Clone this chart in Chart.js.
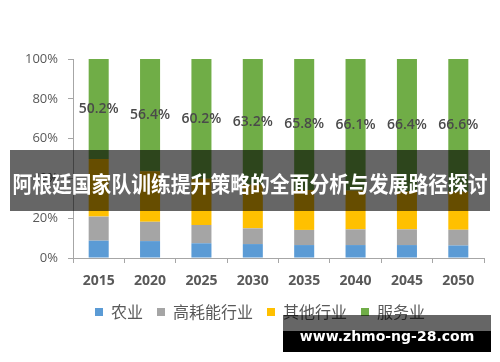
<!DOCTYPE html>
<html>
<head>
<meta charset="utf-8">
<script src="https://cdn.jsdelivr.net/npm/chart.js@4/dist/chart.umd.min.js"></script>
<style>
  html, body { margin: 0; padding: 0; background: #fff; }
  #wrap { position: relative; width: 500px; height: 362px; }
  #banner {
    position: absolute; left: 10px; top: 150px; width: 480px; height: 61px;
    background: rgba(0, 0, 0, 0.6);
  }
  #banner span {
    position: absolute; left: 50%; top: 50%;
    transform: translate(-50%, -46%) scaleX(0.9);
    color: #fff; font: bold 22px "Noto Sans CJK SC", sans-serif;
    white-space: nowrap;
  }
  #mark {
    position: absolute; left: 283px; top: 315px; width: 208px; height: 37px;
    background: linear-gradient(to bottom, rgba(0,0,0,0.6) 0, rgba(0,0,0,0.6) 16px, #000 16px);
    color: #fff; font: bold 14px "DejaVu Sans", sans-serif;
    line-height: 31px; text-align: center; padding-top: 6px; box-sizing: border-box;
  }
</style>
</head>
<body>
<div id="wrap">
  <canvas id="energyChart"></canvas>
  <div id="banner"><span>阿根廷国家队训练提升策略的全面分析与发展路径探讨</span></div>
  <div id="mark">www.zhmo-ng-28.com</div>
</div>
<script>
const years = ['2015', '2020', '2025', '2030', '2035', '2040', '2045', '2050'];
const agriculture = [8.7, 8.5, 7.4, 7.0, 6.5, 6.5, 6.5, 6.3];
const heavyIndustry = [12.1, 9.7, 9.2, 7.9, 7.6, 7.9, 7.9, 7.9];
const otherIndustry = [29.0, 25.4, 23.2, 21.9, 20.1, 19.5, 19.2, 19.2];
const services = [50.2, 56.4, 60.2, 63.2, 65.8, 66.1, 66.4, 66.6];
const yTicks = [0, 20, 40, 60, 80, 100];

// labels in the middle of the services segment
const serviceLabels = {
    id: 'serviceLabels',
    afterDatasetsDraw(chart) {
        const meta = chart.getDatasetMeta(3);
        const ctx = chart.ctx;
        ctx.save();
        ctx.font = '600 14px "Open Sans"';
        ctx.fillStyle = '#4a4a4a';
        ctx.textAlign = 'center';
        ctx.textBaseline = 'middle';
        meta.data.forEach((bar, i) => {
            ctx.fillText(services[i].toFixed(1) + '%', bar.x, (bar.y + bar.base) / 2);
        });
        ctx.restore();
    }
};

// legend sits a little right of the canvas centre in the original
const legendShift = {
    id: 'legendShift',
    afterLayout(chart) {
        chart.legend.left += 18;
        chart.legend.right += 18;
    }
};

const axisColor = '#a6a6a6';
const textColor = '#595959';

new Chart(document.getElementById('energyChart'), {
    type: 'bar',
    data: {
        labels: years,
        datasets: [
            { label: '农业', data: agriculture, backgroundColor: '#5b9bd5' },
            { label: '高耗能行业', data: heavyIndustry, backgroundColor: '#a5a5a5' },
            { label: '其他行业', data: otherIndustry, backgroundColor: '#ffc000' },
            { label: '服务业', data: services, backgroundColor: '#70ad47' }
        ]
    },
    options: {
        responsive: true,
        maintainAspectRatio: false,
        animation: false,
        datasets: {
            bar: { categoryPercentage: 1, barPercentage: 0.39 }
        },
        layout: {
            padding: { top: 59, right: 16, left: 0, bottom: 32 }
        },
        plugins: {
            legend: {
                position: 'bottom',
                labels: {
                    boxWidth: 8,
                    boxHeight: 8,
                    padding: 14,
                    color: textColor,
                    font: { family: '"Noto Sans CJK SC"', size: 16 }
                }
            },
            tooltip: { enabled: false }
        },
        scales: {
            x: {
                stacked: true,
                afterFit: function(scale) { scale.height = 32; },
                grid: {
                    offset: true,
                    drawOnChartArea: false,
                    tickLength: 5,
                    color: axisColor
                },
                border: { color: axisColor },
                ticks: {
                    color: textColor,
                    padding: 10,
                    font: { family: '"Open Sans"', size: 14, weight: 'bold' }
                }
            },
            y: {
                stacked: true,
                min: 0,
                max: 100,
                afterFit: function(scale) { scale.width = 73; },
                afterBuildTicks: function(scale) {
                    scale.ticks = yTicks.map(v => ({ value: v }));
                },
                grid: {
                    drawOnChartArea: false,
                    tickLength: 5,
                    color: axisColor
                },
                border: { color: axisColor },
                ticks: {
                    color: textColor,
                    padding: 10,
                    font: { family: '"Open Sans"', size: 13 },
                    callback: v => v + '%'
                }
            }
        }
    },
    plugins: [serviceLabels, legendShift]
});
</script>
</body>
</html>
